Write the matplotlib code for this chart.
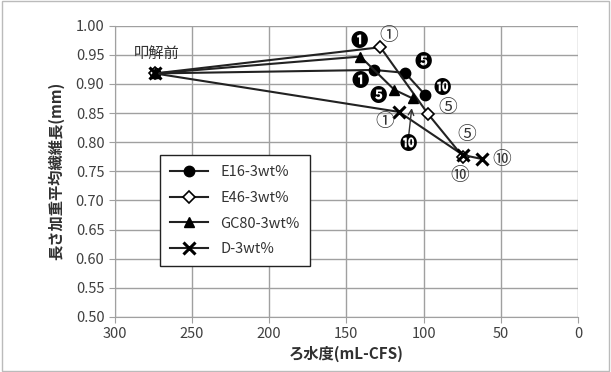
import matplotlib
matplotlib.use("Agg")
import matplotlib.pyplot as plt

plt.rcParams['font.family'] = ['Noto Sans CJK JP', 'DejaVu Sans']

# data: freeness (mL-CFS) and length-weighted mean fibre length (mm)
start_x, start_y = 274, 0.918
series_names = ["E16-3wt%", "E46-3wt%", "GC80-3wt%", "D-3wt%"]
e16_x = [274, 132, 112, 99]
e16_y = [0.918, 0.924, 0.919, 0.881]
e46_x = [274, 128, 97, 74.5]
e46_y = [0.918, 0.963, 0.848, 0.775]
gc80_x = [274, 141, 119, 107]
gc80_y = [0.918, 0.947, 0.890, 0.875]
d_x = [274, 116, 74.5, 62]
d_y = [0.918, 0.852, 0.778, 0.771]

e16_labels = ["❶", "❺", "❿"]
gc80_labels = ["❶", "❺", "❿"]
e46_labels = ["①", "⑤", "⑩"]
d_labels = ["①", "⑤", "⑩"]

xticks = [300, 250, 200, 150, 100, 50, 0]
yticks = [0.50, 0.55, 0.60, 0.65, 0.70, 0.75, 0.80, 0.85, 0.90, 0.95, 1.00]

fig = plt.figure(figsize=(6.11, 3.72), dpi=100)
ax = fig.add_axes([0.188, 0.148, 0.758, 0.783])

lc = "#222222"
ax.plot(e16_x, e16_y, color=lc, lw=1.5, marker="o", ms=7.5, mfc="black", mec="black", label=series_names[0], zorder=3)
ax.plot(e46_x, e46_y, color=lc, lw=1.5, marker="D", ms=6, mfc="white", mec="black", mew=1.2, label=series_names[1], zorder=3)
ax.plot(gc80_x, gc80_y, color=lc, lw=1.5, marker="^", ms=7.5, mfc="black", mec="black", label=series_names[2], zorder=3)
ax.plot(d_x, d_y, color=lc, lw=1.5, marker="x", ms=8, mew=2.2, mec="black", label=series_names[3], zorder=3)

ax.set_xlim(300, 0)
ax.set_ylim(0.50, 1.00)
ax.set_xticks(xticks)
ax.set_yticks(yticks)
ax.set_yticklabels([f"{v:.2f}" for v in yticks])
ax.grid(True, color="#a0a0a0", lw=1.0)
ax.set_axisbelow(True)
for s in ["top", "right"]:
    ax.spines[s].set_visible(False)
for s in ["left", "bottom"]:
    ax.spines[s].set_color("#a0a0a0")
ax.tick_params(axis="both", colors="#a0a0a0", labelcolor="#404040", labelsize=10.5, length=4)

ax.set_xlabel("ろ水度(mL-CFS)", fontsize=11, fontweight="bold", color="#303030", labelpad=3)
ax.set_ylabel("長さ加重平均繊維長(mm)", fontsize=11, fontweight="bold", color="#303030", labelpad=8)

def lab(x, y, t, dx, dy, filled):
    ax.annotate(t, (x, y), xytext=(dx, dy), textcoords="offset pixels",
                ha="center", va="center", fontsize=12.5 if filled else 13.5,
                fontweight="bold" if filled else "normal",
                color="black" if filled else "#333333", zorder=5)

e16_off = [(-14, -11), (18, 11), (17, 7)]
gc80_off = [(-1, 16), (-16, -6), (-5, -46)]
e46_off = [(8, 12), (19, 7), (-3, -19)]
d_off = [(-14, -10), (4, 20), (19, 0)]
for i in range(3):
    lab(e16_x[i + 1], e16_y[i + 1], e16_labels[i], *e16_off[i], True)
    lab(gc80_x[i + 1], gc80_y[i + 1], gc80_labels[i], *gc80_off[i], True)
    lab(e46_x[i + 1], e46_y[i + 1], e46_labels[i], *e46_off[i], False)
    lab(d_x[i + 1], d_y[i + 1], d_labels[i], *d_off[i], False)

# leader arrow from the GC80 "10" label up to its point
ax.annotate("", xy=(gc80_x[3], gc80_y[3]), xytext=(-4, -36), textcoords="offset pixels",
            arrowprops=dict(arrowstyle="->", color="#333333", lw=1.0, shrinkA=0, shrinkB=7),
            zorder=4)

ax.annotate("叩解前", (start_x, start_y), xytext=(2, 20), textcoords="offset pixels",
            ha="center", va="center", fontsize=11, color="#333333")

leg = ax.legend(loc="upper left", bbox_to_anchor=(0.098, 0.556), frameon=True, fancybox=False,
                edgecolor="#222222", fontsize=10.5, handlelength=2.6, borderpad=0.7,
                labelspacing=0.8, framealpha=1, borderaxespad=0)
leg.get_frame().set_linewidth(1.0)
for t in leg.get_texts():
    t.set_color("#333333")

fig.patches.append(plt.Rectangle((0.003, 0.003), 0.994, 0.994, transform=fig.transFigure,
                                 fill=False, edgecolor="#bbbbbb", lw=1))

fig.savefig("out.png", dpi=100)
